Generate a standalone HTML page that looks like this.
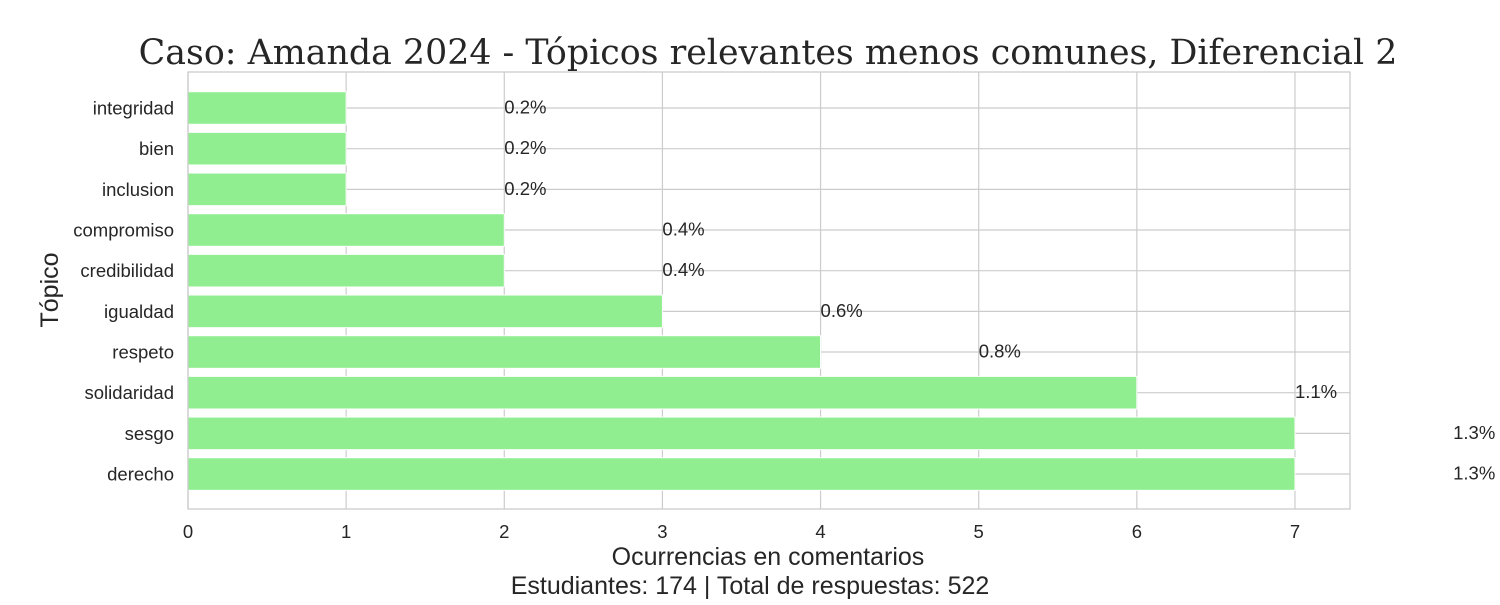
<!DOCTYPE html>
<html><head><meta charset="utf-8"><style>
body{margin:0;background:#fff;}
svg text{fill:#262626;font-family:"Liberation Sans",sans-serif;}
</style></head><body>
<svg id="chart" width="1500" height="600" xmlns="http://www.w3.org/2000/svg">
<text x="768" y="64" text-anchor="middle" font-size="34.8" style="font-family:'DejaVu Serif','Liberation Serif',serif">Caso: Amanda 2024 - Tópicos relevantes menos comunes, Diferencial 2</text>
<g id="grid"></g><g id="bars"></g><g id="labels"></g>
<rect x="188" y="72" width="1162" height="437" fill="none" stroke="#cccccc" stroke-width="1.3"/>
<text x="768" y="565" text-anchor="middle" font-size="25">Ocurrencias en comentarios</text>
<text x="750" y="594" text-anchor="middle" font-size="25">Estudiantes: 174 | Total de respuestas: 522</text>
<text transform="translate(58,290) rotate(-90)" text-anchor="middle" font-size="25">Tópico</text>
</svg>
<script>
const categories=["integridad","bien","inclusion","compromiso","credibilidad","igualdad","respeto","solidaridad","sesgo","derecho"];
const values=[1,1,1,2,2,3,4,6,7,7];
const percents=["0.2%","0.2%","0.2%","0.4%","0.4%","0.6%","0.8%","1.1%","1.3%","1.3%"];
const xTicks=[0,1,2,3,4,5,6,7];
const NS="http://www.w3.org/2000/svg";
const x=v=>188+v*158.14;
const step=40.67;
const yc=i=>108+i*step;
function mk(t,a,p){const e=document.createElementNS(NS,t);for(const k in a)e.setAttribute(k,a[k]);p.appendChild(e);return e;}
const g=document.getElementById('grid'),b=document.getElementById('bars'),l=document.getElementById('labels'),svg=document.getElementById('chart');
xTicks.forEach(t=>{
const ln=mk('line',{x1:x(t),x2:x(t),y1:72,y2:509,stroke:'#cccccc','stroke-width':1.2},g);


const tx=mk('text',{x:x(t),y:538,'text-anchor':'middle','font-size':18.5},svg);tx.textContent=t;


});
categories.forEach((c,i)=>{
const ln=mk('line',{x1:188,x2:1350,y1:yc(i),y2:yc(i),stroke:'#cccccc','stroke-width':1.2},g);


const r=mk('rect',{x:x(0),y:yc(i)-16.3,width:x(values[i])-x(0),height:32.6,fill:'#90ee90',stroke:'#fff','stroke-width':1},b);


const tl=mk('text',{x:174,y:yc(i)+6.5,'text-anchor':'end','font-size':18.5},svg);tl.textContent=c;


const vl=mk('text',{x:x(values[i]+1),y:yc(i)+5.5,'font-size':18.5},l);vl.textContent=percents[i];


});
</script>
</body></html>
